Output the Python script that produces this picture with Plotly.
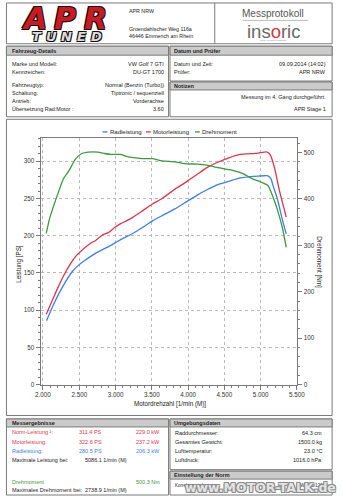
import plotly.graph_objects as go

W, H = 343, 500

# ---------------- data ----------------
rpm_rad = [2049, 2133, 2221, 2310, 2398, 2487, 2575, 2664, 2752, 2841, 2929, 3066, 3243, 3376,
           3509, 3642, 3819, 3951, 4128, 4261, 4394, 4571, 4704, 4836, 4969, 5102, 5146, 5170,
           5236, 5302, 5354]
ps_rad = [86, 105, 122.6, 138, 151.3, 160.2, 166.8, 172.6, 178, 182.3, 186.7, 194.5, 203.4, 211.4,
          220, 227, 236, 244, 254.6, 261.7, 268, 273.3, 277.3, 279, 280, 280.5, 276, 268,
          248, 221, 202.5]

rpm_motor = [2045, 2111, 2199, 2288, 2376, 2465, 2553, 2642, 2730, 2819, 2907, 2987, 3066, 3150,
             3243, 3376, 3509, 3642, 3819, 3951, 4128, 4261, 4394, 4571, 4704, 4836, 4969, 5080,
             5124, 5150, 5200, 5257, 5314, 5354]
ps_motor = [94.7, 109.3, 129, 147, 162, 174, 182, 189, 194, 201, 204.5, 211, 216, 220,
            225, 233.7, 242.6, 250, 262.6, 270.6, 282.6, 291.5, 298, 305, 309, 310, 311, 312.5,
            310, 305, 288, 262, 240, 225]

rpm_torque = [2045, 2090, 2155, 2220, 2280, 2358, 2447, 2535, 2624, 2757, 2850, 2934, 3066, 3150,
              3243, 3376, 3509, 3642, 3819, 3951, 4128, 4261, 4394, 4571, 4748, 4881, 5013, 5102,
              5170, 5236, 5301, 5354]
nm_torque = [326, 357, 389, 418, 443, 461, 486, 498, 501, 501, 498, 496, 496, 492,
             489, 487, 487, 482, 480, 476, 475, 473, 468, 463, 455, 444, 436, 429,
             405, 375, 338, 296]

x_ticks = [2000, 2500, 3000, 3500, 4000, 4500, 5000, 5500]
x_ticktext = ["2.000", "2.500", "3.000", "3.500", "4.000", "4.500", "5.000", "5.500"]

series_names = ["Radleistung", "Motorleistung", "Drehmoment"]
series_colors = ["#3d7ef2", "#e0344c", "#3c9a3c"]

fahrzeug_labels = ["Marke und Modell:", "Kennzeichen:", "Fahrzeugtyp:", "Schaltung:", "Antrieb:",
                   "Übersetzung Rad:Motor :"]
fahrzeug_values = ["VW Golf 7 GTI", "DU-GT 1700", "Normal (Benzin (Turbo))", "Tiptronic / sequenziell",
                   "Vorderachse", "3.60"]
datum_labels = ["Datum und Zeit:", "Prüfer:"]
datum_values = ["09.09.2014 (14:02)", "APR NRW"]
notizen = ["Messung im 4. Gang durchgeführt.", "APR Stage 1"]

mess_labels = ["Norm-Leistung ¹:", "Motorleistung:", "Radleistung:", "Maximale Leistung bei:",
               "Drehmoment", "Maximales Drehmoment bei:"]
mess_val1 = ["311.4 PS", "322.6 PS", "280.5 PS", "", "", ""]
mess_val2 = ["229.0 kW", "237.2 kW", "206.3 kW", "", "500.3 Nm", ""]
mess_rpm = ["", "", "", "5086.1 1/min (M)", "", "2738.9 1/min (M)"]
mess_colors = ["#e0344c", "#e0344c", "#3d7ef2", "#222222", "#3c9a3c", "#222222"]

umg_labels = ["Raddurchmesser:", "Gesamtes Gewicht:", "Lufttemperatur:", "Luftdruck:"]
umg_values = ["64.3 cm", "1500.0 kg", "23.0 °C", "1016.0 hPa"]

# ---------------- helpers ----------------
def X(px):
    return px / W


def Y(py):
    return 1 - py / H


shapes = []
annotations = []


def box(x0, y0, x1, y1, fill=None, line="#7a7a7a", width=1):
    shapes.append(dict(type="rect", xref="paper", yref="paper", x0=X(x0), x1=X(x1), y0=Y(y1), y1=Y(y0),
                       line=dict(color=line, width=width), fillcolor=fill if fill else "rgba(0,0,0,0)"))


def hline(x0, x1, y, color="#999", width=1):
    shapes.append(dict(type="line", xref="paper", yref="paper", x0=X(x0), x1=X(x1), y0=Y(y), y1=Y(y),
                       line=dict(color=color, width=width)))


def text(px, py, s, size=5.5, color="#222", anchor="left", bold=False, family=None, angle=0,
         style="normal", shadow="none", weight=None):
    f = dict(size=size, color=color, style=style, shadow=shadow)
    if family:
        f["family"] = family
    if weight is not None:
        f["weight"] = weight
    elif bold:
        f["weight"] = "bold"
    annotations.append(dict(x=X(px), y=Y(py), xref="paper", yref="paper", text=s, showarrow=False,
                            xanchor=anchor, yanchor="middle", font=f, borderpad=0, textangle=angle))


BAR = "#cbcbcb"

# ---------------- header ----------------
box(1.5, 3, 340, 44)
shapes.append(dict(type="line", xref="paper", yref="paper", x0=X(218), x1=X(218), y0=Y(44), y1=Y(3),
                   line=dict(color="#7a7a7a", width=1)))

outline = "-1px -1px 0 #111, 1px -1px 0 #111, -1px 1px 0 #111, 1px 1px 0 #111"
for ch, cx in zip(["A", "P", "R"], [31, 62, 94]):
    text(cx, 19, ch, size=30, color="#cc1a22", anchor="center", family="DejaVu Sans",
         style="italic", weight=900, shadow=outline)
for ch, cx in zip(["T", "U", "N", "E", "D"], [33, 48.5, 64, 79.5, 95]):
    text(cx, 36.5, ch, size=13, color="#dcdcdc", anchor="center", family="DejaVu Sans",
         style="italic", weight=900, shadow=outline)

text(127.5, 10.7, "APR NRW", size=5.3)
text(127.5, 29, "Groendahlscher Weg 116a", size=5.3)
text(127.5, 36.3, "46446 Emmerich am Rhein", size=5.3)

text(279, 14, "Messprotokoll", size=10, color="#555", anchor="center")
hline(247, 315, 20.5, color="#bbb")
text(279, 31.5, "ins<span style='color:#d8383c'>o</span>ric", size=18.5, color="#6a6a6a", anchor="center")
text(279, 40.5, "sense precision measuring", size=2.2, color="#888", anchor="center")

# ---------------- Fahrzeug / Datum / Notizen ----------------
box(1.5, 46.5, 170, 117.5)
box(1.5, 46.5, 170, 55.5, fill=BAR)
text(6.5, 51.2, "Fahrzeug-Details", size=5.5, bold=True)
for lab, val, py in zip(fahrzeug_labels, fahrzeug_values, [64.3, 72.3, 86, 94, 102, 110]):
    text(6.5, py, lab)
    text(166.5, py, val, anchor="right")

box(171.5, 46.5, 340, 81.5)
box(171.5, 46.5, 340, 55.5, fill=BAR)
text(175, 51.2, "Datum und Prüfer", size=5.5, bold=True)
for lab, val, py in zip(datum_labels, datum_values, [64.3, 72.3]):
    text(175, py, lab)
    text(334.5, py, val, anchor="right")

box(171.5, 82.5, 340, 117.5)
box(171.5, 82.5, 340, 90.5, fill=BAR)
text(175, 86.5, "Notizen", size=5.5, bold=True)
for s, py in zip(notizen, [97.7, 110]):
    text(334.5, py, s, anchor="right")

# ---------------- chart box ----------------
box(1.5, 120, 340, 418)

# manual legend
for name, col, lx in zip(series_names, series_colors, [101.5, 146.5, 197.5]):
    shapes.append(dict(type="line", xref="paper", yref="paper", x0=X(lx), x1=X(lx + 5), y0=Y(132.7),
                       y1=Y(132.7), line=dict(color=col, width=1.3)))
    text(lx + 6.3, 132.7, name, size=6)

text(15, 265, "Leistung [PS]", size=6.3, anchor="center", angle=-90)
text(325.5, 264, "Drehmoment [Nm]", size=6.3, anchor="center", angle=90)
text(171, 406.7, "Motordrehzahl [1/min (M)]", size=6.3, anchor="center")

# ---------------- Messergebnisse / Umgebung / Norm ----------------
box(1.5, 421.5, 170, 498)
box(1.5, 421.5, 170, 429.5, fill=BAR)
text(6.5, 425.5, "Messergebnisse", size=5.5, bold=True)
for lab, v1, v2, vr, col, py in zip(mess_labels, mess_val1, mess_val2, mess_rpm, mess_colors,
                                    [434.3, 444.3, 454, 462.3, 485, 493.3]):
    text(6.5, py, lab, color=col)
    if v1:
        text(101.7, py, v1, color=col, anchor="right")
    if v2:
        text(161.7, py, v2, color=col, anchor="right")
    if vr:
        text(81.7, py, vr, color=col)

box(171.5, 421.5, 340, 472.5)
box(171.5, 421.5, 340, 429.5, fill=BAR)
text(175, 425.5, "Umgebungsdaten", size=5.5, bold=True)
for lab, val, py in zip(umg_labels, umg_values, [436, 444.7, 453.7, 462.3]):
    text(175.5, py, lab)
    text(330.7, py, val, anchor="right")

box(171.5, 474, 340, 498)
box(171.5, 474, 340, 482, fill=BAR)
text(175, 478, "Einstellung der Norm", size=5.5, bold=True)
text(175.5, 488.5, "Korrektur nach:", size=4.5)
text(334.5, 488.5, "EWG 80/1269", size=4.5, anchor="right")
text(266, 490.5, "www.MOTOR-TALK.de", size=12.5, color="#e4e4e4", anchor="center",
     family="DejaVu Sans", weight=900,
     shadow="-1px -1px 0 #8a8a8a, 1px -1px 0 #8a8a8a, -1px 1px 0 #8a8a8a, 1px 1px 0 #8a8a8a")

# ---------------- traces ----------------
fig = go.Figure()
fig.add_trace(go.Scatter(x=rpm_rad, y=ps_rad, name=series_names[0], mode="lines",
                         line=dict(color=series_colors[0], width=1.3, shape="spline", smoothing=0.5)))
fig.add_trace(go.Scatter(x=rpm_motor, y=ps_motor, name=series_names[1], mode="lines",
                         line=dict(color=series_colors[1], width=1.3, shape="spline", smoothing=0.5)))
fig.add_trace(go.Scatter(x=rpm_torque, y=nm_torque, name=series_names[2], mode="lines", yaxis="y2",
                         line=dict(color=series_colors[2], width=1.3, shape="spline", smoothing=0.5)))

axis_line = "#7a7a7a"
grid = "#b8b8b8"
tickfont = dict(size=6.3, color="#333")

fig.update_layout(
    width=W, height=H, autosize=False,
    margin=dict(l=0, r=0, t=0, b=0, pad=0),
    paper_bgcolor="white", plot_bgcolor="white",
    font=dict(family="Liberation Sans", color="#222"),
    showlegend=False,
    xaxis=dict(domain=[X(37), X(304)], range=[1967, 5509], tickvals=x_ticks, ticktext=x_ticktext,
               showgrid=True, gridcolor=grid, griddash="dot", gridwidth=1, zeroline=False,
               showline=True, linecolor=axis_line, linewidth=1, mirror=True,
               ticks="outside", ticklen=4, tickcolor=axis_line, tickfont=tickfont,
               minor=dict(dtick=100, tick0=2000, ticks="outside", ticklen=2, tickcolor=axis_line, showgrid=False)),
    yaxis=dict(domain=[Y(387), Y(139)], range=[0, 331], dtick=50, tick0=0,
               showgrid=True, gridcolor=grid, griddash="dot", gridwidth=1, zeroline=False,
               showline=True, linecolor=axis_line, linewidth=1,
               ticks="outside", ticklen=4, tickcolor=axis_line, tickfont=tickfont,
               minor=dict(dtick=10, ticks="outside", ticklen=2, tickcolor=axis_line, showgrid=False)),
    yaxis2=dict(overlaying="y", side="right", range=[0, 531], dtick=100, tick0=0,
                showgrid=False, zeroline=False, anchor="x",
                showline=True, linecolor=axis_line, linewidth=1,
                ticks="outside", ticklen=4, tickcolor=axis_line, tickfont=tickfont,
                minor=dict(dtick=20, ticks="outside", ticklen=2, tickcolor=axis_line, showgrid=False)),
    shapes=shapes,
    annotations=annotations,
)

fig.write_html("out.html")
